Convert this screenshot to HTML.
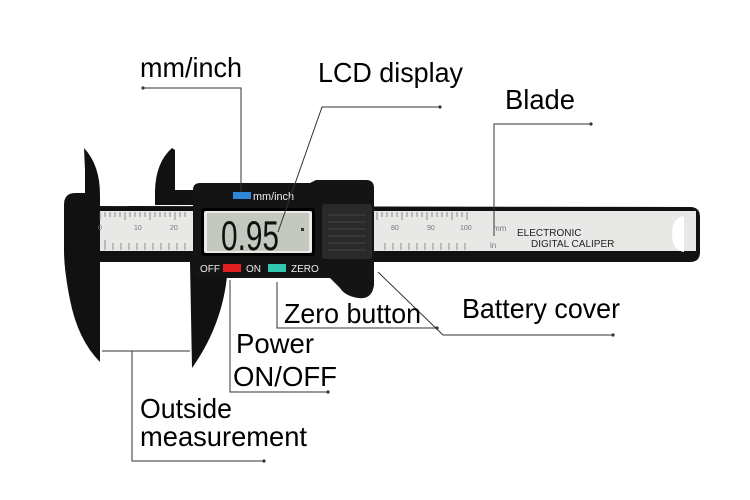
<!DOCTYPE html>
<html><head><style>
html,body{margin:0;padding:0;background:#fff;width:750px;height:500px;overflow:hidden}
svg{display:block}
text{font-family:"Liberation Sans",sans-serif}
.lbl{font-size:28px;fill:#000}
.ln{stroke:#333;stroke-width:1;fill:none}
</style></head><body>
<svg width="750" height="500" viewBox="0 0 750 500">
<!-- beam -->
<path d="M90,206 L690,207 Q700,207 700,217 L700,252 Q700,262 690,262 L90,262 Z" fill="#111"/>
<rect x="96" y="211" width="600" height="40" fill="#e8e8e6"/>
<path d="M684,216 Q672,218 672,234 Q672,250 684,252 Z" fill="#fff"/>
<!-- fixed jaw -->
<path d="M84,148 Q100,165 100,195 L100,262 L100,362 Q78,340 70,300 Q64,270 64,250 L64,205 Q64,193 75,193 L85,193 L85,170 Z" fill="#111"/>
<!-- moving upper jaw -->
<path d="M172,148 Q156,162 155,190 L155,205 L195,205 L195,190 L175,190 L175,150 Z" fill="#111"/>
<!-- moving lower jaw -->
<path d="M190,262 L228,262 Q226,320 192,368 Z" fill="#111"/>
<!-- scale ticks -->
<g stroke="#666" stroke-width="0.7">
<path d="M100,212 V220 M105,212 V217 M110,212 V217 M115,212 V217 M120,212 V217 M125,212 V220 M130,212 V217 M135,212 V217 M140,212 V217 M145,212 V217 M150,212 V220 M155,212 V217 M160,212 V217 M165,212 V217 M170,212 V217 M175,212 V220 M180,212 V217 M185,212 V217"/>
<path d="M377,212 V220 M382,212 V217 M387,212 V217 M392,212 V217 M397,212 V217 M402,212 V220 M407,212 V217 M412,212 V217 M417,212 V217 M422,212 V217 M427,212 V220 M432,212 V217 M437,212 V217 M442,212 V217 M447,212 V217 M452,212 V220 M457,212 V217 M462,212 V217 M467,212 V220"/>
<path d="M105,240 V250 M113,243 V250 M121,243 V250 M129,243 V250 M137,243 V250 M145,243 V250 M153,243 V250 M161,243 V250 M169,243 V250 M177,243 V250 M185,243 V250 M385,243 V250 M393,243 V250 M401,243 V250 M409,243 V250 M417,243 V250 M425,243 V250 M433,243 V250 M441,243 V250 M449,243 V250 M457,243 V250 M465,243 V250"/>
</g>
<g font-size="7" fill="#777">
<text x="98" y="230">0</text><text x="134" y="230">10</text><text x="170" y="230">20</text>
<text x="391" y="230">80</text><text x="427" y="230">90</text><text x="460" y="230">100</text>
<text x="493" y="231" font-size="8">mm</text><text x="490" y="248" font-size="8">in</text>
</g>
<text x="517" y="236" font-size="10" fill="#222">ELECTRONIC</text>
<text x="531" y="247" font-size="10" fill="#222">DIGITAL CALIPER</text>
<!-- housing -->
<path d="M200,183 L310,183 L316,180 L366,180 Q374,180 374,188 L374,285 Q372,300 358,298 Q345,296 340,288 L330,278 L228,278 L200,278 Q193,278 193,270 L193,190 Q193,183 200,183 Z" fill="#141414"/>
<rect x="322" y="204" width="50" height="55" rx="3" fill="#2a2a2a"/>
<g stroke="#444" stroke-width="1"><path d="M328,215 H366 M328,222 H366 M328,229 H366 M328,236 H366 M328,243 H366 M328,250 H366"/></g>
<!-- LCD -->
<rect x="201" y="208" width="114" height="48" rx="3" fill="#000"/>
<rect x="204" y="211" width="108" height="42" rx="2" fill="#eaeae6"/>
<rect x="207" y="213" width="102" height="38" fill="#c3c9be"/>
<text x="221" y="250" font-size="42" fill="#111" textLength="58" lengthAdjust="spacingAndGlyphs">0.95</text>
<rect x="301" y="228" width="3" height="3" fill="#333"/>
<rect x="233" y="192" width="18" height="7" fill="#2e86d6"/>
<text x="253" y="200" font-size="11" fill="#eee" textLength="41" lengthAdjust="spacingAndGlyphs">mm/inch</text>
<text x="200" y="272" font-size="10" fill="#eee">OFF</text>
<rect x="223" y="264" width="18" height="8" fill="#e02020"/>
<text x="246" y="272" font-size="10" fill="#eee">ON</text>
<rect x="268" y="264" width="18" height="8" fill="#30c8b0"/>
<text x="291" y="272" font-size="10" fill="#eee">ZERO</text>
<!-- connector lines -->
<g class="ln">
<path d="M143,88 H241 V192"/>
<path d="M440,107 H322 L278,232"/>
<path d="M591,124 H494 V236"/>
<path d="M277,282 V328 H437"/>
<path d="M378,272 L443,335 H613"/>
<path d="M230,280 V392 H328"/>
<path d="M102,351 H190 M132,351 V461 H264"/>
</g>
<g fill="#333">
<circle cx="143" cy="88" r="1.6"/><circle cx="440" cy="107" r="1.6"/><circle cx="591" cy="124" r="1.6"/>
<circle cx="437" cy="328" r="1.6"/><circle cx="613" cy="335" r="1.6"/><circle cx="328" cy="392" r="1.6"/><circle cx="264" cy="461" r="1.6"/>
</g>
<!-- labels -->
<text class="lbl" x="140" y="77" textLength="102" lengthAdjust="spacingAndGlyphs">mm/inch</text>
<text class="lbl" x="318" y="82" textLength="145" lengthAdjust="spacingAndGlyphs">LCD display</text>
<text class="lbl" x="505" y="109" textLength="70" lengthAdjust="spacingAndGlyphs">Blade</text>
<text class="lbl" x="284" y="323" textLength="137" lengthAdjust="spacingAndGlyphs">Zero button</text>
<text class="lbl" x="462" y="318" textLength="158" lengthAdjust="spacingAndGlyphs">Battery cover</text>
<text class="lbl" x="236" y="353" textLength="78" lengthAdjust="spacingAndGlyphs">Power</text>
<text class="lbl" x="233" y="386" textLength="104" lengthAdjust="spacingAndGlyphs">ON/OFF</text>
<text class="lbl" x="140" y="418" textLength="92" lengthAdjust="spacingAndGlyphs">Outside</text>
<text class="lbl" x="140" y="446" textLength="167" lengthAdjust="spacingAndGlyphs">measurement</text>
</svg>
</body></html>
